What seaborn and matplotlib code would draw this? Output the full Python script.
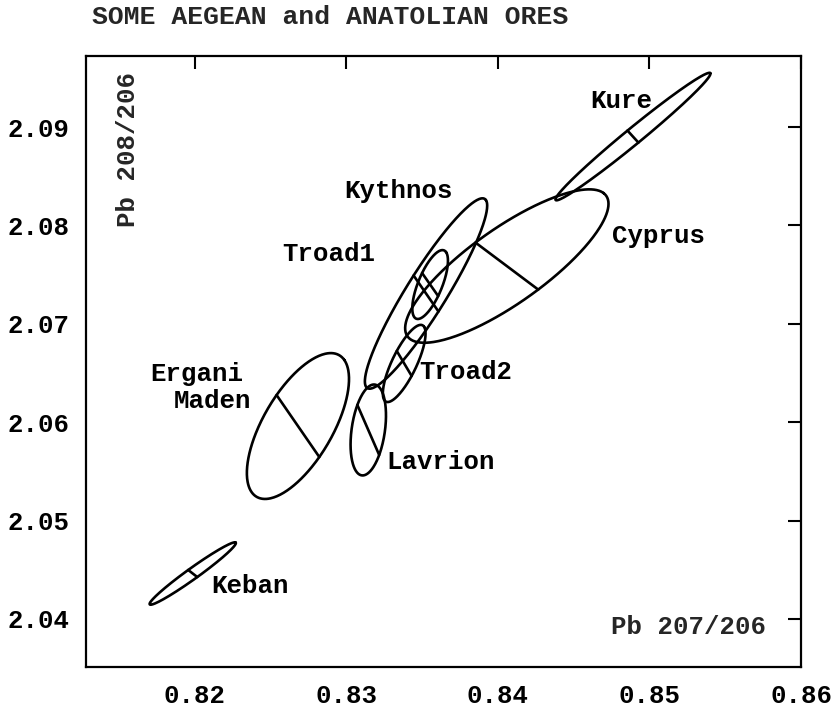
import numpy as np
import pandas as pd
import matplotlib
matplotlib.use("Agg")
import matplotlib.pyplot as plt
import seaborn as sns

# ---- data ----
names = ["Kure", "Cyprus", "Kythnos", "Troad1", "Troad2", "Lavrion", "Ergani Maden", "Keban"]
# ellipse centres (Pb207/206, Pb208/206)
cx = [0.84891, 0.84059, 0.83526, 0.83553, 0.83382, 0.83145, 0.82681, 0.81987]
cy = [2.08903, 2.07587, 2.07308, 2.07399, 2.06597, 2.05921, 2.05961, 2.04462]
# major semi-axis vectors
ax_ = [0.00510, 0.00638, 0.00395, 0.00105, 0.00132, 0.00092, 0.00306, 0.00283]
ay_ = [0.00645, 0.00742, 0.00950, 0.00330, 0.00371, 0.00386, 0.00671, 0.00315]
# minor semi-axis vectors (the drawn cross line)
bx_ = [0.00036, 0.00207, 0.00082, 0.00053, 0.00049, 0.00072, 0.00141, 0.00030]
by_ = [-0.00061, -0.00239, -0.00183, -0.00117, -0.00127, -0.00254, -0.00315, -0.00036]

label_text = ["Kure", "Cyprus", "Kythnos", "Troad1", "Troad2", "Lavrion", "Ergani", "Maden", "Keban"]
label_x = [0.84612, 0.84750, 0.82987, 0.82579, 0.83480, 0.83263, 0.81704, 0.81862, 0.82112]
label_y = [2.09264, 2.07892, 2.08350, 2.07709, 2.06510, 2.05596, 2.06490, 2.06215, 2.04335]

xticks = [0.82, 0.83, 0.84, 0.85, 0.86]
yticks = [2.04, 2.05, 2.06, 2.07, 2.08, 2.09]
title = "SOME AEGEAN and ANATOLIAN ORES"
xlabel = "Pb 207/206"
ylabel = "Pb 208/206"

# ---- build curves ----
t = np.linspace(0, 2 * np.pi, 361)
rows = []
lines = []
for i, n in enumerate(names):
    xs = cx[i] + ax_[i] * np.cos(t) + bx_[i] * np.sin(t)
    ys = cy[i] + ay_[i] * np.cos(t) + by_[i] * np.sin(t)
    rows.append(pd.DataFrame({"x": xs, "y": ys, "name": n, "order": np.arange(len(t))}))
    lines.append(pd.DataFrame({"x": [cx[i] - bx_[i], cx[i] + bx_[i]],
                               "y": [cy[i] - by_[i], cy[i] + by_[i]],
                               "name": n, "order": [0, 1]}))
ell = pd.concat(rows, ignore_index=True)
crs = pd.concat(lines, ignore_index=True)

sns.set_theme(style="white")
plt.rcParams["font.family"] = ["Liberation Mono", "DejaVu Sans"]
plt.rcParams["font.weight"] = "bold"

fig = plt.figure(figsize=(8.36, 7.07), dpi=100)
ax = fig.add_axes([0.1029, 0.0566, 0.8553, 0.8642])

lw = 1.9
sns.lineplot(data=ell, x="x", y="y", units="name", estimator=None, sort=False,
             color="black", linewidth=lw, ax=ax, legend=False)
sns.lineplot(data=crs, x="x", y="y", units="name", estimator=None, sort=False,
             color="black", linewidth=lw, ax=ax, legend=False)

fs = 18.5
for s, x, y in zip(label_text, label_x, label_y):
    ax.text(x, y, s, ha="left", va="center", fontsize=fs, fontweight="bold", color="black")

ax.text(0.84743, 2.03919, xlabel, ha="left", va="center", fontsize=fs, fontweight="bold")
ax.text(0.81559, 2.09559, ylabel, ha="center", va="top", rotation=90, fontsize=fs, fontweight="bold")
fig.text(92 / 836, 1 - 17 / 707, title, ha="left", va="center", fontsize=19, fontweight="bold")

ax.set_xlim(0.81283, 0.86)
ax.set_ylim(2.03512, 2.09722)
ax.set_xticks(xticks)
ax.set_yticks(yticks)
ax.set_xticklabels([f"{v:.2f}" for v in xticks])
ax.set_yticklabels([f"{v:.2f}" for v in yticks])
ax.set_xlabel("")
ax.set_ylabel("")
ax.tick_params(direction="in", length=9.5, width=1.5, top=True, right=True,
               labelsize=fs, pad=12, colors="black")
for lab in ax.get_xticklabels() + ax.get_yticklabels():
    lab.set_fontweight("bold")
for sp in ax.spines.values():
    sp.set_linewidth(1.6)
    sp.set_color("black")

fig.savefig("out.png", dpi=100)
